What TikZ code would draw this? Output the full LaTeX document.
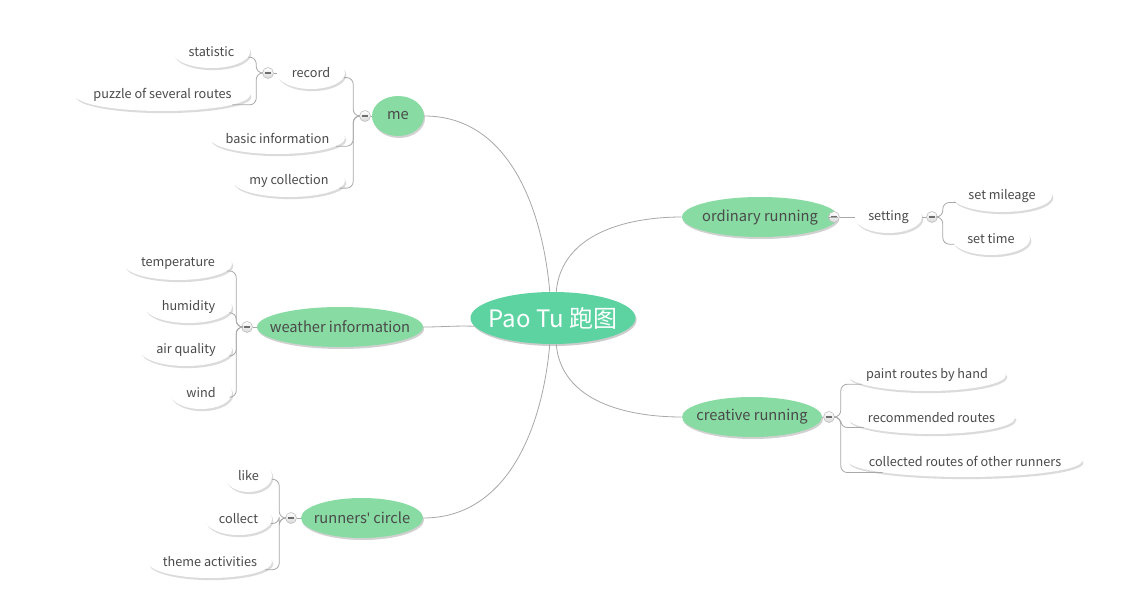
\documentclass[tikz,border=0pt]{standalone}
\usepackage{fontspec}
\setmainfont{Noto Sans CJK SC}
\newfontfamily\latinfont{Noto Sans}
\usetikzlibrary{shapes.geometric,shadows}
\definecolor{topicgreen}{HTML}{88DBA2}
\definecolor{centergreen}{HTML}{5DD3A2}
\definecolor{linegray}{HTML}{A8A8A8}
\definecolor{textgray}{HTML}{4A4A4A}
\tikzset{
  centre/.style={ellipse, fill=centergreen, text=white, inner xsep=-14pt, inner ysep=0pt, minimum width=165*0.75pt, minimum height=52*0.75pt, font=\fontsize{18}{20}\selectfont, drop shadow={shadow xshift=0.8pt, shadow yshift=-1.5pt, fill=black, opacity=0.2}},
  topic/.style={ellipse, fill=topicgreen, text=textgray, inner xsep=-12pt, minimum height=40*0.75pt, minimum width=#1*0.75pt, font=\fontsize{11}{13}\selectfont, drop shadow={shadow xshift=0.8pt, shadow yshift=-1.5pt, fill=black, opacity=0.18}},
  leaf/.style={ellipse, fill=white, text=textgray, inner xsep=-12pt, minimum height=32*0.75pt, minimum width=#1*0.75pt, font=\fontsize{9.5}{11}\selectfont, drop shadow={shadow xshift=1pt, shadow yshift=-1.6pt, fill=black, opacity=0.14}},
  fold/.style={circle, draw=gray!55, inner sep=0pt, minimum size=11*0.75pt, top color=white, bottom color=gray!30, path picture={\draw[textgray!80, line width=1.1pt] ([xshift=-2.2pt]path picture bounding box.center) -- ([xshift=2.2pt]path picture bounding box.center);}},
  branch/.style={draw=linegray, line width=0.6pt},
}
\begin{document}
\begin{tikzpicture}[x=0.75pt, y=-0.75pt]
    \fill[white] (0,0) rectangle (1135,613); % page
    % centre and main topics
    \node[centre] (pt) at (553,318) {Pao Tu 跑图};
    \node[topic=52] (me) at (398,116) {me};
    \node[topic=156] (ord) at (760,217) {ordinary running};
    \node[topic=166] (wea) at (340,327) {weather information};
    \node[topic=140] (cre) at (752,417) {creative running};
    \node[topic=122] (run) at (362,518) {runners{\latinfont\symbol{39}} circle};
    \draw[branch] (pt.97) to[out=95, in=0] (me.east);
    \draw[branch] (pt.83) to[out=85, in=180] (ord.west);
    \draw[branch] (pt.186) to[out=178, in=0] (wea.east);
    \draw[branch] (pt.-83) to[out=-85, in=180] (cre.west);
    \draw[branch] (pt.-97) to[out=-95, in=0] (run.east);
    % fold buttons
    \node[fold] (meC) at (365,116) {};
    \node[fold] (recC) at (268,73) {};
    \node[fold] (ordC) at (834,217) {};
    \node[fold] (setC) at (932,217) {};
    \node[fold] (weaC) at (247,327) {};
    \node[fold] (creC) at (829,417) {};
    \node[fold] (runC) at (291,518) {};
    % me
    \node[leaf=68] (rec) at (311,73) {record};
    \node[leaf=77] (stat) at (211.5,52) {statistic};
    \node[leaf=175] (puz) at (162.5,95) {puzzle of several routes};
    \node[leaf=135] (basic) at (277.5,138) {basic information};
    \node[leaf=112] (coll) at (289,181) {my collection};
    \draw[branch] (me.west) -- (meC.east);
    \draw[branch] (rec.west) -- (recC.east);
    \draw[branch, rounded corners=5pt] (meC.west) -- ++(-6,0) |- (rec.-8);
    \draw[branch, rounded corners=5pt] (meC.west) -- ++(-6,0) |- (basic.-8);
    \draw[branch, rounded corners=5pt] (meC.west) -- ++(-6,0) |- (coll.-8);
    \draw[branch, rounded corners=5pt] (recC.west) -- ++(-6,0) |- (stat.-8);
    \draw[branch, rounded corners=5pt] (recC.west) -- ++(-6,0) |- (puz.-8);
    % ordinary running
    \node[leaf=67] (set) at (888.5,217) {setting};
    \node[leaf=100] (mil) at (1002,196) {set mileage};
    \node[leaf=78] (time) at (991,239) {set time};
    \draw[branch] (ord.east) -- (ordC.west);
    \draw[branch] (ordC.east) -- (set.west);
    \draw[branch] (set.east) -- (setC.west);
    \draw[branch, rounded corners=5pt] (setC.east) -- ++(5,0) |- (mil.188);
    \draw[branch, rounded corners=5pt] (setC.east) -- ++(5,0) |- (time.188);
    % weather information
    \node[leaf=108] (temp) at (178,264) {temperature};
    \node[leaf=87] (hum) at (188.5,307) {humidity};
    \node[leaf=92] (air) at (186,350) {air quality};
    \node[leaf=62] (wind) at (201,393) {wind};
    \draw[branch] (wea.west) -- (weaC.east);
    \draw[branch, rounded corners=5pt] (weaC.west) -- ++(-5,0) |- (temp.-8);
    \draw[branch, rounded corners=5pt] (weaC.west) -- ++(-5,0) |- (hum.-8);
    \draw[branch, rounded corners=5pt] (weaC.west) -- ++(-5,0) |- (air.-8);
    \draw[branch, rounded corners=5pt] (weaC.west) -- ++(-5,0) |- (wind.-8);
    % creative running
    \node[leaf=158] (paint) at (927,375) {paint routes by hand};
    \node[leaf=167] (recom) at (931.5,418) {recommended routes};
    \node[leaf=234] (other) at (965,461) {collected routes of other runners};
    \draw[branch] (cre.east) -- (creC.west);
    \draw[branch, rounded corners=5pt] (creC.east) -- ++(6,0) |- (paint.188);
    \draw[branch, rounded corners=5pt] (creC.east) -- ++(6,0) |- (recom.188);
    \draw[branch, rounded corners=5pt] (creC.east) -- ++(6,0) |- (other.188);
    % runners' circle
    \node[leaf=47] (like) at (248.5,476) {like};
    \node[leaf=67] (col) at (238.5,519) {collect};
    \node[leaf=124] (theme) at (210,562) {theme activities};
    \draw[branch] (run.west) -- (runC.east);
    \draw[branch, rounded corners=5pt] (runC.west) -- ++(-6,0) |- (like.-8);
    \draw[branch, rounded corners=5pt] (runC.west) -- ++(-6,0) |- (col.-8);
    \draw[branch, rounded corners=5pt] (runC.west) -- ++(-6,0) |- (theme.-8);
\end{tikzpicture}
\end{document}
